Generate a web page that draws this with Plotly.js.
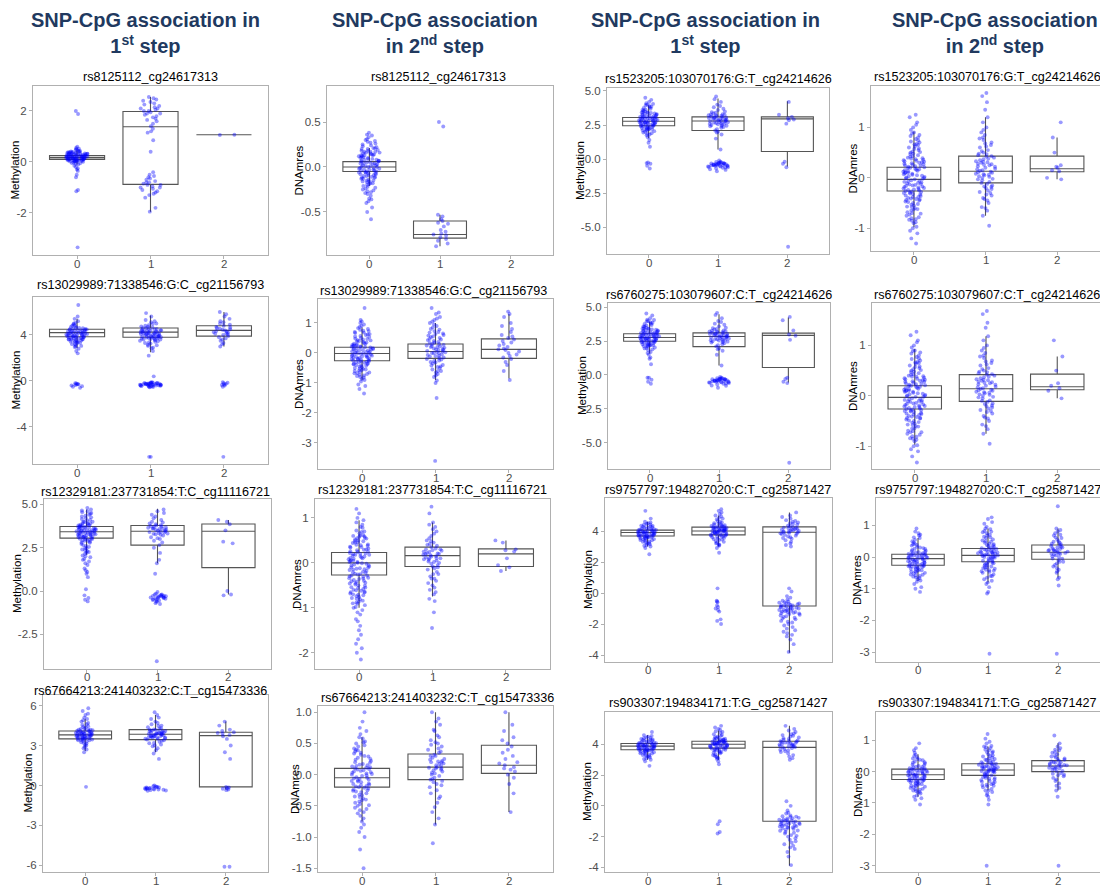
<!DOCTYPE html>
<html>
<head>
<meta charset="utf-8">
<script src="https://cdn.plot.ly/plotly-3.0.1.min.js"></script>
<style>
  html, body { margin: 0; padding: 0; background: #ffffff; }
  #chart { width: 1100px; height: 888px; }
</style>
</head>
<body>
<div id="chart"></div>
<script>
// ---------- data ----------
const genotypes = ['0', '1', '2'];

const columnHeaders = [
  'SNP-CpG association in<br>1<sup>st</sup> step',
  'SNP-CpG association<br>in 2<sup>nd</sup> step',
  'SNP-CpG association in<br>1<sup>st</sup> step',
  'SNP-CpG association<br>in 2<sup>nd</sup> step'
];

const panelTitles = [
  'rs8125112_cg24617313', 'rs8125112_cg24617313',
  'rs1523205:103070176:G:T_cg24214626', 'rs1523205:103070176:G:T_cg24214626',
  'rs13029989:71338546:G:C_cg21156793', 'rs13029989:71338546:G:C_cg21156793',
  'rs6760275:103079607:C:T_cg24214626', 'rs6760275:103079607:C:T_cg24214626',
  'rs12329181:237731854:T:C_cg11116721', 'rs12329181:237731854:T:C_cg11116721',
  'rs9757797:194827020:C:T_cg25871427', 'rs9757797:194827020:C:T_cg25871427',
  'rs67664213:241403232:C:T_cg15473336', 'rs67664213:241403232:C:T_cg15473336',
  'rs903307:194834171:T:G_cg25871427', 'rs903307:194834171:T:G_cg25871427'
];

const yLabels = [
  'Methylation', 'DNAmres', 'Methylation', 'DNAmres',
  'Methylation', 'DNAmres', 'Methylation', 'DNAmres',
  'Methylation', 'DNAmres', 'Methylation', 'DNAmres',
  'Methylation', 'DNAmres', 'Methylation', 'DNAmres'
];

const yTickValues = [
  [-2, 0, 2], [-0.5, 0, 0.5], [-5, -2.5, 0, 2.5, 5], [-1, 0, 1],
  [-4, 0, 4], [-3, -2, -1, 0, 1], [-5, -2.5, 0, 2.5, 5], [-1, 0, 1],
  [-2.5, 0, 2.5, 5], [-2, -1, 0, 1], [-4, -2, 0, 2, 4], [-3, -2, -1, 0, 1],
  [-6, -3, 0, 3, 6], [-1.5, -1, -0.5, 0, 0.5, 1], [-4, -2, 0, 2, 4], [-3, -2, -1, 0, 1]
];
const yTickDecimals = [0, 1, 1, 0, 0, 0, 1, 0, 1, 0, 0, 0, 0, 1, 0, 0];

// box summaries per panel, genotype 0 / 1 / 2 (null = no carriers)
const lowerWhisker = [
  [-0.1, -1.95, 1.07], [-0.21, -0.88, null], [1.55, 0.7, -0.55], [-0.98, -0.75, -0.03],
  [2.85, 2.5, 3.0], [-0.9, -0.9, -0.85], [1.6, 0.7, -0.55], [-0.97, -0.75, -0.05],
  [2.1, 1.6, -0.2], [-1.0, -0.75, -0.18], [3.0, 3.0, -3.85], [-0.75, -0.8, -0.65],
  [2.6, 2.5, -0.3], [-0.75, -0.8, -0.6], [3.0, 3.0, -3.9], [-0.8, -0.6, -0.6]
];
const quartile1 = [
  [0.1, -0.88, 1.07], [-0.05, -0.79, null], [2.45, 2.1, 0.55], [-0.26, -0.1, 0.12],
  [3.85, 3.8, 3.9], [-0.26, -0.18, -0.18], [2.5, 2.1, 0.55], [-0.26, -0.11, 0.12],
  [3.05, 2.65, 1.35], [-0.27, -0.08, -0.08], [3.68, 3.75, -0.84], [-0.26, -0.15, -0.07],
  [3.5, 3.45, -0.1], [-0.2, -0.08, 0.02], [3.65, 3.75, -1.0], [-0.25, -0.12, 0.0]
];
const medians = [
  [0.17, 1.38, 1.07], [0.0, -0.75, null], [2.78, 2.8, 2.95], [-0.03, 0.13, 0.18],
  [4.2, 4.25, 4.4], [-0.02, 0.05, 0.12], [2.78, 2.85, 2.93], [-0.03, 0.14, 0.18],
  [3.42, 3.45, 3.45], [0.0, 0.16, 0.2], [3.9, 4.0, 3.92], [-0.05, 0.05, 0.15],
  [3.8, 3.85, 3.75], [-0.05, 0.12, 0.15], [3.88, 4.0, 3.8], [-0.1, 0.05, 0.18]
];
const quartile3 = [
  [0.25, 1.98, 1.07], [0.06, -0.6, null], [3.05, 3.1, 3.1], [0.21, 0.43, 0.43],
  [4.5, 4.6, 4.8], [0.19, 0.3, 0.47], [3.05, 3.12, 3.1], [0.2, 0.42, 0.43],
  [3.72, 3.78, 3.87], [0.23, 0.35, 0.31], [4.06, 4.25, 4.27], [0.085, 0.27, 0.38],
  [4.1, 4.2, 4.0], [0.1, 0.33, 0.47], [4.05, 4.2, 4.2], [0.08, 0.25, 0.35]
];
const upperWhisker = [
  [0.45, 2.55, 1.07], [0.21, -0.53, null], [3.95, 4.45, 4.25], [0.92, 1.2, 0.8],
  [5.4, 5.7, 6.0], [0.85, 1.0, 1.3], [3.95, 4.5, 4.25], [0.93, 1.18, 0.78],
  [4.7, 4.75, 4.1], [0.95, 0.9, 0.5], [4.6, 5.0, 5.2], [0.6, 0.9, 0.9],
  [5.0, 5.3, 4.8], [0.6, 1.0, 1.0], [4.6, 4.9, 5.2], [0.55, 0.8, 0.9]
];

// individual samples per panel: [genotype 0, genotype 1, genotype 2]
const samplesP01 = [
  [0.05,0.1,0.15,0.2,0.25,0.3,0.35,0.4,0.12,0.18,0.22,0.28,0.08,0.02,0.32,0.38,0.45,0.5,0.55,0.14,0.24,0.16,0.26,0.06,0.34,-0.05,-0.1,-0.15,-0.2,-0.25,-0.3,0.42,0.48,0.11,0.19,0.21,0.29,0.09,0.31,0.36,0.04,0.13,0.23,0.27,0.17,0.07,0.33,0.03,0.6,-0.5,-0.6,-1.1,-1.15,2.0,1.88,-3.35,-0.35,0.52,
   0.01,0.03,0.05,0.07,0.09,0.11,0.13,0.15,0.17,0.19,0.21,0.23,0.25,0.27,0.29,0.31,0.33,0.35,0.37,0.39,0.41,0.43,0.02,0.06,0.1,0.14,0.18,0.22,0.26,0.3,0.34,0.38,-0.02,-0.04,-0.07,0.12,0.2,0.28,0.24,0.16],
  [2.55,2.5,2.45,2.4,2.3,2.25,2.2,2.15,2.1,2.05,2.0,1.95,1.9,1.85,1.8,1.75,1.7,1.6,1.5,1.4,1.3,1.2,2.35,2.0,2.1,1.9,1.65,1.15,0.85,0.4,-0.4,-0.5,-0.6,-0.7,-0.75,-0.8,-0.85,-0.9,-0.95,-1.0,-1.05,-1.1,-1.15,-1.2,-1.3,-1.4,-0.65,-0.9,-0.8,-1.0,-0.55,-1.25,-1.95,-1.8],
  [1.07, 1.06]
];
const samplesP02 = [
  [-0.2,-0.18,-0.15,-0.12,-0.1,-0.08,-0.06,-0.04,-0.02,0,0.02,0.04,0.06,0.08,0.1,0.12,0.14,0.16,0.18,0.2,-0.14,-0.09,-0.03,0.03,0.09,0.15,-0.11,0.01,0.07,0.13,-0.07,-0.01,0.05,0.11,0.17,-0.16,0.22,0.25,0.28,0.3,0.33,0.36,0.38,-0.22,-0.25,-0.28,-0.3,-0.35,-0.38,-0.4,-0.45,-0.5,-0.58,-0.23,0.21,-0.05,0.0,0.04,
   -0.19,-0.17,-0.13,-0.11,-0.09,-0.07,-0.05,-0.03,-0.01,0.01,0.03,0.05,0.07,0.09,0.11,0.13,0.15,0.17,0.19,0.21,-0.21,-0.16,-0.12,-0.06,-0.02,0.02,0.06,0.1,0.14,0.18,0.23,0.26,-0.24,-0.26,-0.15,-0.08,0.0,0.08,0.16,0.24,-0.18,-0.1,-0.04,0.04,0.12,0.2,-0.13,-0.03,0.07,0.17,-0.27,0.27,0.31,-0.32,0.35,-0.36,0.29,-0.29,0.13,-0.06],
  [0.45,0.5,-0.53,-0.55,-0.58,-0.6,-0.63,-0.66,-0.7,-0.72,-0.74,-0.76,-0.78,-0.8,-0.82,-0.85,-0.88,-0.62,-0.75],
  []
];
const samplesP03 = [
  [2.0,2.1,2.2,2.3,2.4,2.5,2.6,2.7,2.8,2.9,3.0,3.1,3.2,3.3,3.4,3.5,3.6,3.7,3.8,4.0,2.25,2.45,2.65,2.85,3.05,3.25,3.45,2.35,2.55,2.75,2.95,3.15,3.35,2.15,2.6,2.8,3.0,2.7,2.9,3.1,1.9,1.8,1.6,1.4,1.2,0.9,4.2,4.35,4.5,4.1,3.9,-0.3,-0.35,-0.5,-0.7,-0.25,2.5,2.8,
   2.12,2.18,2.28,2.32,2.38,2.42,2.48,2.52,2.58,2.62,2.68,2.72,2.78,2.82,2.88,2.92,2.98,3.02,3.08,3.12,3.18,3.22,3.28,3.32,3.38,3.42,3.48,3.55,3.65,3.75,3.85,3.95,4.05,2.05,1.95,1.85,1.75,2.22,2.66,3.06],
  [1.5,2.0,2.2,2.4,2.5,2.6,2.7,2.8,2.9,3.0,3.1,3.2,3.3,3.4,3.6,3.8,4.0,4.2,4.4,4.6,2.55,2.75,2.95,3.15,2.65,2.85,3.05,2.35,3.5,1.8,0.7,2.9,3.25,-0.1,-0.2,-0.3,-0.35,-0.4,-0.45,-0.5,-0.55,-0.6,-0.7,-0.8,-0.9,-0.3,-0.4,-0.5,-0.25,-0.45,-0.35,-0.55,-0.65,
   2.45,2.52,2.58,2.62,2.68,2.72,2.78,2.82,2.88,2.92,2.98,3.02,3.08,3.12,3.18,3.22,3.28,3.35,2.42,3.45,3.7,3.9,2.3,2.1,1.95,-0.22,-0.28,-0.32,-0.38,-0.42,-0.48,-0.52,-0.58,-0.62,-0.36,-0.44,-0.33,-0.27,-0.47,-0.75],
  [4.2,3.25,3.1,3.0,2.9,2.85,2.6,-0.35,-0.2,-0.6,-6.45]
];
const samplesP04 = [
  [-1.3,-1.2,-1.1,-1.0,-0.9,-0.8,-0.7,-0.6,-0.5,-0.45,-0.4,-0.35,-0.3,-0.25,-0.2,-0.15,-0.1,-0.05,0,0.05,0.1,0.15,0.2,0.25,0.3,0.35,0.4,0.5,0.6,0.7,0.8,0.9,1.0,1.1,1.2,1.25,-0.55,-0.28,-0.12,0.02,0.18,0.32,0.45,-0.65,-0.38,-0.22,-0.08,0.08,0.22,0.55,-0.75,-0.32,0.12,0.65,-0.02,-0.18,0.28,-0.42,0.38,-0.85,
   -0.88,-0.83,-0.78,-0.73,-0.68,-0.63,-0.58,-0.53,-0.48,-0.43,-0.38,-0.33,-0.29,-0.26,-0.23,-0.19,-0.16,-0.13,-0.09,-0.06,-0.03,0.01,0.04,0.07,0.11,0.14,0.17,0.21,0.24,0.27,0.31,0.34,0.37,0.42,0.47,0.52,0.57,0.62,0.67,0.72,0.77,0.83,0.88,0.95,
   -0.82,-0.71,-0.62,-0.52,-0.44,-0.36,-0.27,-0.21,-0.14,-0.07,0.03,0.09,0.16,0.23,0.29,0.36,0.43,0.51,0.58,0.66,0.74,0.85,-0.57,-0.41,-0.31,-0.17,-0.11,0.06,0.19,0.33,0.48,-0.97,-1.05,1.05,-0.47,-0.24,-0.01,0.13,0.26,0.39],
  [-0.95,-0.75,-0.6,-0.5,-0.4,-0.3,-0.25,-0.2,-0.15,-0.1,-0.05,0,0.05,0.1,0.15,0.2,0.25,0.3,0.35,0.4,0.45,0.5,0.6,0.7,0.8,0.9,1.0,1.1,1.2,1.35,1.5,1.62,1.68,-0.35,-0.02,0.12,0.28,0.42,0.55,-0.45,0.08,0.18,0.38,0.65,-0.28,0.02,0.22,-0.12,0.32,0.75,
   -0.58,-0.42,-0.33,-0.22,-0.17,-0.08,-0.03,0.03,0.07,0.11,0.17,0.23,0.27,0.33,0.37,0.43,0.48,0.53,0.62,0.68,0.78,0.85,0.95,-0.65,0.14,0.26,-0.18,0.06,0.31,0.47],
  [1.1,0.8,0.5,0.25,0.22,0.15,0.13,-0.03,0.0,0.2]
];
const samplesP05 = [
  [3.0,3.2,3.4,3.5,3.6,3.7,3.8,3.9,4.0,4.1,4.2,4.3,4.4,4.5,4.6,4.8,5.0,5.2,3.65,3.85,4.05,4.25,4.45,3.75,3.95,4.15,4.35,3.55,4.55,3.3,4.7,2.8,2.6,2.4,5.4,5.6,6.6,3.9,4.0,4.1,-0.2,-0.25,-0.3,-0.35,-0.4,-0.45,-0.5,-0.3,-0.6,-0.22,
   3.12,3.22,3.32,3.42,3.52,3.58,3.62,3.68,3.72,3.78,3.82,3.88,3.92,3.98,4.02,4.08,4.12,4.18,4.22,4.28,4.32,4.38,4.42,4.48,4.52,4.58,4.62,4.72,4.82,4.92,5.05,3.35,3.45,3.05,2.95,4.0,4.2,3.8,4.4,3.6],
  [2.2,2.6,2.9,3.1,3.3,3.5,3.6,3.7,3.8,3.9,4.0,4.1,4.2,4.3,4.4,4.5,4.6,4.8,5.0,5.3,5.6,5.9,3.75,3.95,4.15,4.35,3.85,4.05,4.25,4.45,3.65,3.4,4.7,-0.1,-0.15,-0.2,-0.25,-0.3,-0.35,-0.4,-0.45,-0.5,-0.55,-0.2,-0.3,-0.4,-0.25,-0.35,-0.45,-0.15,0.4,-6.6,-6.6,
   2.85,3.15,3.25,3.35,3.45,3.55,3.62,3.68,3.72,3.78,3.82,3.88,3.92,3.98,4.02,4.08,4.12,4.18,4.22,4.28,4.32,4.38,4.42,4.48,4.52,4.58,4.65,4.75,4.85,4.95,5.1,5.2,3.05,4.0,4.2,3.8,4.4,3.6,4.1,3.9,
   -0.12,-0.18,-0.22,-0.28,-0.32,-0.38,-0.42,-0.48,-0.52,-0.27,-0.33,-0.23,-0.37,-0.17,-0.43,-0.29,-0.31,-0.21,-0.39,-0.26],
  [3.0,3.3,3.5,3.7,3.8,3.9,4.0,4.1,4.2,4.3,4.4,4.5,4.6,4.7,4.8,4.9,5.0,5.2,5.4,5.6,5.8,6.0,4.05,4.25,4.45,4.65,3.6,4.15,4.35,4.55,3.2,5.1,-0.1,-0.2,-0.25,-0.3,-0.35,-0.4,-0.15,-0.5,-6.6]
];
const samplesP06 = [
  [-1.35,-1.2,-1.05,-0.9,-0.8,-0.7,-0.6,-0.5,-0.4,-0.35,-0.3,-0.25,-0.2,-0.15,-0.1,-0.05,0,0.05,0.1,0.15,0.2,0.25,0.3,0.4,0.5,0.6,0.7,0.8,0.9,1.0,1.1,1.5,-0.45,-0.28,-0.12,0.02,0.12,0.22,0.35,-0.55,-0.18,-0.02,0.08,0.45,-0.65,-0.38,0.18,0.55,-0.08,0.28,
   -0.87,-0.82,-0.77,-0.73,-0.67,-0.63,-0.57,-0.53,-0.47,-0.43,-0.37,-0.33,-0.27,-0.23,-0.17,-0.13,-0.07,-0.03,0.03,0.07,0.13,0.17,0.23,0.27,0.33,0.37,0.43,0.47,0.53,0.57,0.63,0.67,0.73,0.77,0.83,0.87,-0.75,-0.58,-0.42,-0.31,-0.21,-0.11,-0.01,0.09,0.19,0.31,0.42,0.62,0.74,-0.95,0.95,-0.29,-0.09,0.11,0.26,-0.52,0.38,-0.24,0.04,0.16,-0.16,-0.36,0.48,-0.68,0.68,1.05,-1.1,0.21,-0.04,-0.19],
  [-1.0,-0.8,-0.7,-0.6,-0.5,-0.4,-0.3,-0.2,-0.1,0,0.1,0.2,0.3,0.4,0.5,0.6,0.7,0.8,0.9,1.0,1.1,1.2,1.35,1.5,-0.25,-0.05,0.05,0.15,0.25,0.35,-0.15,0.45,-0.35,0.55,0.02,0.12,0.22,-0.45,0.65,-1.5,-3.6,
   -0.92,-0.75,-0.65,-0.55,-0.47,-0.42,-0.32,-0.27,-0.22,-0.17,-0.12,-0.07,-0.02,0.03,0.07,0.13,0.17,0.23,0.27,0.33,0.37,0.43,0.47,0.53,0.58,0.63,0.68,0.73,0.78,0.85,0.95,1.05,1.15,1.3,-0.6,0.1,0.2,0.3,-0.1,0.0],
  [-0.9,-0.6,-0.4,-0.3,-0.2,-0.1,0,0.1,0.2,0.3,0.4,0.5,0.6,0.7,0.8,0.9,1.0,1.2,1.3,1.38,0.05,0.15,0.25,0.35,-0.15,0.55,0.12,0.45,-0.05]
];
const samplesP07 = [
  [2.0,2.1,2.2,2.3,2.4,2.5,2.6,2.7,2.8,2.9,3.0,3.1,3.2,3.3,3.4,3.5,3.6,3.7,3.8,4.0,2.25,2.45,2.65,2.85,3.05,3.25,3.45,2.35,2.55,2.75,2.95,3.15,3.35,2.15,2.6,2.8,3.0,2.7,2.9,3.1,1.9,1.7,1.5,1.3,1.2,0.8,4.2,4.4,4.55,4.1,3.9,-0.2,-0.35,-0.5,-0.65,-0.2,2.5,2.8,
   2.14,2.19,2.27,2.33,2.37,2.43,2.47,2.53,2.57,2.63,2.67,2.73,2.77,2.83,2.87,2.93,2.97,3.03,3.07,3.13,3.17,3.23,3.27,3.33,3.37,3.43,3.47,3.57,3.67,3.77,3.87,3.97,4.07,2.04,1.97,1.83,1.62,2.21,2.64,3.04],
  [1.5,1.9,2.2,2.4,2.5,2.6,2.7,2.8,2.9,3.0,3.1,3.2,3.3,3.4,3.6,3.8,4.0,4.2,4.45,4.6,2.55,2.75,2.95,3.15,2.65,2.85,3.05,2.35,3.5,1.8,0.7,2.9,3.25,-0.15,-0.2,-0.3,-0.35,-0.4,-0.45,-0.5,-0.55,-0.6,-0.7,-0.8,-0.95,-0.3,-0.4,-0.5,-0.25,-0.45,-0.35,-0.55,-0.65,
   2.47,2.53,2.57,2.63,2.67,2.73,2.77,2.83,2.87,2.93,2.97,3.03,3.07,3.13,3.17,3.23,3.27,3.37,2.43,3.47,3.72,3.92,2.28,2.12,1.97,-0.23,-0.27,-0.33,-0.37,-0.43,-0.47,-0.53,-0.57,-0.63,-0.38,-0.42,-0.31,-0.28,-0.48,-0.78],
  [4.3,4.05,3.3,3.0,2.9,2.6,-0.3,-0.5,-0.2,-0.6,-6.5]
];
const samplesP08 = [
  [-1.32,-1.2,-1.1,-1.0,-0.9,-0.8,-0.7,-0.6,-0.5,-0.45,-0.4,-0.35,-0.3,-0.25,-0.2,-0.15,-0.1,-0.05,0,0.05,0.1,0.15,0.2,0.25,0.3,0.35,0.4,0.5,0.6,0.7,0.8,0.9,1.0,1.1,1.2,1.27,-0.55,-0.28,-0.12,0.02,0.18,0.32,0.45,-0.65,-0.38,-0.22,-0.08,0.08,0.22,0.55,-0.75,-0.32,0.12,0.65,-0.02,-0.18,0.28,-0.42,0.38,-0.85,
   -0.87,-0.84,-0.77,-0.72,-0.69,-0.64,-0.57,-0.52,-0.49,-0.44,-0.37,-0.34,-0.29,-0.26,-0.22,-0.19,-0.16,-0.12,-0.09,-0.06,-0.02,0.01,0.04,0.08,0.11,0.14,0.18,0.21,0.24,0.28,0.31,0.34,0.38,0.42,0.47,0.53,0.57,0.63,0.67,0.73,0.77,0.84,0.89,0.96,
   -0.81,-0.72,-0.61,-0.53,-0.44,-0.36,-0.27,-0.21,-0.14,-0.07,0.03,0.09,0.16,0.23,0.29,0.36,0.43,0.51,0.58,0.66,0.74,0.86,-0.58,-0.41,-0.31,-0.17,-0.11,0.06,0.19,0.33,0.48,-0.98,-1.06,1.06,-0.47,-0.24,-0.01,0.13,0.26,0.39],
  [-0.95,-0.75,-0.6,-0.5,-0.4,-0.3,-0.25,-0.2,-0.15,-0.1,-0.05,0,0.05,0.1,0.15,0.2,0.25,0.3,0.35,0.4,0.45,0.5,0.6,0.7,0.8,0.9,1.0,1.1,1.18,1.35,1.45,1.62,1.68,-0.35,-0.02,0.12,0.28,0.42,0.55,-0.45,0.08,0.18,0.38,0.65,-0.28,0.02,0.22,-0.12,0.32,0.75,
   -0.57,-0.43,-0.32,-0.23,-0.16,-0.09,-0.03,0.03,0.07,0.11,0.17,0.23,0.27,0.33,0.37,0.43,0.48,0.53,0.62,0.68,0.78,0.85,0.95,-0.66,0.14,0.26,-0.19,0.06,0.31,0.47],
  [1.1,0.78,0.5,0.25,0.2,0.1,-0.05,0.15]
];
const samplesP09 = [
  [0.8,1.0,1.2,1.5,1.8,2.0,2.2,2.4,2.6,2.8,2.9,3.0,3.1,3.2,3.3,3.4,3.5,3.6,3.7,3.8,3.9,4.0,4.1,4.2,4.3,4.4,4.5,4.6,4.7,4.8,3.05,3.25,3.45,3.65,3.15,3.35,3.55,3.75,2.95,3.85,3.4,3.5,2.5,2.3,1.6,-0.4,-0.6,0.1,-0.25,-0.5,
   2.25,2.35,2.45,2.55,2.65,2.72,2.78,2.85,2.92,2.98,3.02,3.08,3.12,3.18,3.22,3.28,3.32,3.38,3.42,3.48,3.52,3.58,3.62,3.68,3.72,3.78,3.82,3.88,3.92,3.98,4.05,4.15,4.25,4.35,4.45,4.55,4.65,2.15,2.05,1.95,3.3,3.4,3.5,3.6,3.2,3.7,3.1,3.8,2.9,4.0,1.85,1.7,1.3,1.1,3.45,3.35,3.55,3.25,3.65,3.15],
  [1.0,1.6,1.8,2.2,2.5,2.8,3.0,3.2,3.3,3.4,3.5,3.6,3.7,3.8,3.9,4.0,4.2,4.4,4.6,4.7,3.45,3.55,3.65,3.35,3.75,3.25,2.65,-0.05,-0.15,-0.2,-0.25,-0.3,-0.35,-0.4,-0.45,-0.5,-0.55,-0.6,-0.7,-0.3,-0.4,-0.2,-4.05,
   3.28,3.32,3.38,3.42,3.48,3.52,3.58,3.62,3.68,3.72,3.78,3.85,3.95,4.1,4.3,4.5,3.1,2.9,3.05,3.6,-0.22,-0.28,-0.32,-0.38,-0.42,-0.48,-0.27,-0.33,-0.37,-0.52,-0.62,-0.75],
  [4.1,4.0,3.85,3.5,2.85,2.75,-0.2,-0.25,0.0]
];
const samplesP10 = [
  [-2.15,-2.0,-1.8,-1.6,-1.4,-1.25,-1.1,-1.0,-0.9,-0.8,-0.7,-0.6,-0.5,-0.4,-0.3,-0.25,-0.2,-0.15,-0.1,-0.05,0,0.05,0.1,0.15,0.2,0.25,0.3,0.4,0.5,0.6,0.7,0.8,0.9,1.0,1.1,1.2,-0.35,-0.12,0.02,0.12,0.35,-0.45,0.45,-0.55,0.55,-0.65,-0.02,0.22,-0.28,0.18,
   -0.98,-0.94,-0.88,-0.84,-0.78,-0.74,-0.68,-0.64,-0.58,-0.54,-0.48,-0.44,-0.38,-0.34,-0.28,-0.24,-0.18,-0.14,-0.08,-0.04,0.04,0.08,0.14,0.18,0.24,0.28,0.34,0.38,0.44,0.48,0.54,0.58,0.62,0.66,0.72,0.78,0.85,
   -0.91,-0.81,-0.71,-0.61,-0.51,-0.41,-0.31,-0.21,-0.11,-0.01,0.09,0.19,0.29,0.39,0.49,0.59,0.69,-0.86,-0.76,-0.66,-0.56,-0.46,-0.36,-0.26,-0.16,-0.06,0.06,0.16,0.26,0.36,0.46,0.56,
   -1.05,-1.15,-1.3,-0.72,-0.42,-0.22,0.02,0.32,0.52,-0.62,-0.33,-0.13,0.11,0.21,0.41,0.61,0.95,-1.5,-1.7,-1.9],
  [-1.45,-1.1,-0.85,-0.7,-0.6,-0.5,-0.4,-0.3,-0.2,-0.1,0,0.05,0.1,0.15,0.2,0.25,0.3,0.35,0.4,0.5,0.6,0.7,0.8,0.9,1.1,1.25,0.12,0.18,0.22,0.28,-0.05,0.45,-0.25,0.02,0.08,
   -0.8,-0.65,-0.55,-0.45,-0.35,-0.25,-0.15,-0.08,-0.02,0.03,0.07,0.11,0.14,0.17,0.21,0.24,0.27,0.32,0.38,0.42,0.48,0.55,0.65,0.75,0.85,-0.35,0.1,0.2,0.3,-0.12],
  [0.5,0.45,0.3,0.28,0.1,-0.05,-0.1,-0.18,0.25]
];
const samplesP11 = [
  [2.5,2.9,3.1,3.2,3.3,3.4,3.5,3.55,3.6,3.65,3.7,3.75,3.8,3.85,3.9,3.95,4.0,4.05,4.1,4.15,4.2,4.3,4.4,4.5,4.6,4.8,5.3,3.62,3.72,3.82,3.92,4.02,3.68,3.78,3.88,3.98,3.45,4.25,3.0,
   3.22,3.32,3.42,3.52,3.58,3.63,3.67,3.73,3.77,3.83,3.87,3.93,3.97,4.03,4.07,4.12,4.18,4.22,4.28,4.35,4.45,3.48,3.38,3.28,4.32,4.42,4.55,3.15,3.05,3.7,3.8,3.9,4.0,3.6,4.1],
  [2.6,2.9,3.1,3.3,3.5,3.6,3.7,3.8,3.85,3.9,3.95,4.0,4.05,4.1,4.15,4.2,4.25,4.3,4.4,4.5,4.6,4.8,5.0,5.2,5.4,3.75,3.95,4.08,4.18,3.88,4.02,4.12,3.65,4.35,3.45,0.3,-0.5,-0.6,-0.8,-1.0,-1.1,-1.2,-0.9,-1.7,-1.8,-2.0,-0.55,
   3.05,3.15,3.25,3.35,3.42,3.48,3.55,3.62,3.68,3.72,3.78,3.82,3.87,3.92,3.97,4.02,4.07,4.12,4.17,4.22,4.27,4.32,4.37,4.42,4.47,4.55,4.65,4.75,4.85,4.95,5.1,5.3,3.2,3.9,4.0,4.1,3.8,4.2,4.3,3.7],
  [3.0,3.3,3.5,3.7,3.8,3.9,4.0,4.1,4.2,4.3,4.4,4.5,4.6,4.8,5.0,5.2,3.95,4.05,4.15,3.85,4.25,3.6,4.7,0.3,0.1,-0.3,-0.5,-0.6,-0.7,-0.8,-0.9,-1.0,-1.1,-1.2,-1.3,-1.4,-1.5,-1.6,-1.7,-1.8,-1.9,-2.0,-2.2,-2.4,-2.6,-2.8,-3.0,-3.3,-3.8,-0.75,-0.95,-1.15,-1.35,-0.85,-1.05,-1.25,-0.65,-1.55,
   3.2,3.4,3.55,3.65,3.75,3.82,3.88,3.92,3.98,4.02,4.08,4.12,4.18,4.22,4.35,4.45,4.55,4.65,4.9,3.1,-0.42,-0.55,-0.62,-0.68,-0.72,-0.78,-0.82,-0.88,-0.92,-0.98,-1.02,-1.08,-1.12,-1.18,-1.22,-1.28,-1.32,-1.45,-1.65,-1.85,-2.1,-2.3,-2.5,-2.7,-0.2]
];
const samplesP12 = [
  [-1.1,-1.0,-0.85,-0.7,-0.6,-0.5,-0.45,-0.4,-0.35,-0.3,-0.25,-0.2,-0.15,-0.1,-0.05,0,0.05,0.1,0.15,0.2,0.3,0.4,0.5,0.6,0.75,0.9,-0.22,-0.12,-0.02,0.08,-0.32,-0.08,0.02,0.12,-0.18,-0.28,0.25,-0.55,
   -0.78,-0.74,-0.66,-0.62,-0.56,-0.52,-0.48,-0.43,-0.38,-0.33,-0.29,-0.27,-0.24,-0.21,-0.17,-0.14,-0.11,-0.07,-0.04,-0.01,0.01,0.04,0.07,0.11,0.14,0.18,0.22,0.26,0.32,0.36,0.42,0.46,0.54,0.62,0.68,-0.65,-0.46,-0.37,-0.31,-0.26,-0.19,-0.09,-0.03,0.03,0.09,0.16,0.28,0.38,-0.58,-0.42,-0.13,0.06,-0.95,0.8,0.7],
  [-1.15,-1.1,-0.8,-0.7,-0.6,-0.5,-0.4,-0.3,-0.2,-0.1,0,0.05,0.1,0.15,0.2,0.25,0.3,0.4,0.5,0.6,0.7,0.8,0.9,1.05,1.2,1.25,-0.15,-0.05,0.02,0.08,0.12,0.18,0.35,-0.25,0.45,-0.35,-3.05,
   -0.85,-0.75,-0.65,-0.55,-0.47,-0.43,-0.37,-0.33,-0.27,-0.23,-0.18,-0.13,-0.08,-0.03,0.01,0.03,0.07,0.09,0.11,0.13,0.17,0.19,0.22,0.24,0.28,0.32,0.37,0.42,0.48,0.55,0.62,0.68,0.75,0.82,0.95,1.1,-0.6,-0.45,-0.2,0.0,0.14,0.26,0.38,0.52,0.64,-0.12,-0.02,0.06,0.16,0.27,-0.32,-0.42,0.78,0.88,-0.95],
  [-0.9,-0.7,-0.5,-0.4,-0.3,-0.2,-0.1,0,0.1,0.15,0.2,0.25,0.3,0.4,0.5,0.6,0.7,0.8,0.9,1.6,0.05,0.12,0.18,0.35,-0.05,0.22,-0.15,0.45,-3.05,
   -0.65,-0.45,-0.35,-0.25,-0.15,-0.05,0.02,0.08,0.13,0.17,0.21,0.24,0.28,0.32,0.38,0.42,0.48,0.55,0.62,0.68,0.75,0.85,0.1,0.3,0.2]
];
const samplesP13 = [
  [2.5,2.8,3.0,3.2,3.3,3.4,3.5,3.6,3.7,3.8,3.9,4.0,4.1,4.2,4.3,4.4,4.6,4.8,5.0,5.3,5.6,5.8,3.55,3.65,3.75,3.85,3.95,4.05,3.45,4.15,3.7,3.9,-0.1,
   3.05,3.15,3.25,3.35,3.42,3.48,3.52,3.58,3.62,3.68,3.72,3.78,3.82,3.88,3.92,3.98,4.02,4.08,4.12,4.18,4.25,4.35,4.45,4.55,4.7,4.9,5.1,3.6,3.8,4.0,3.7,3.9,3.5,4.2,3.4,2.9,2.7,5.4,4.1,3.85],
  [2.0,2.4,2.8,3.0,3.2,3.4,3.5,3.6,3.7,3.8,3.9,4.0,4.1,4.2,4.3,4.5,4.7,5.0,5.3,5.5,3.65,3.75,3.85,3.95,4.05,3.55,0.0,-0.05,-0.1,-0.15,-0.2,-0.25,-0.3,-0.35,-0.4,-0.2,-0.3,-0.15,-0.25,
   2.65,2.95,3.08,3.18,3.28,3.35,3.45,3.52,3.58,3.62,3.68,3.72,3.78,3.82,3.88,3.92,3.98,4.02,4.08,4.12,4.18,4.22,4.28,4.38,4.48,4.6,4.8,5.1,3.6,3.8,4.0,3.7,3.9,-0.12,-0.18,-0.22,-0.28,-0.32,-0.08,-0.38],
  [4.8,4.5,4.2,4.0,3.9,3.8,3.7,3.5,3.0,2.5,2.0,4.1,3.95,-0.1,-0.2,-0.25,-0.3,-0.15,-0.35,-6.1,-6.1]
];
const samplesP14 = [
  [-1.5,-1.2,-1.0,-0.85,-0.7,-0.6,-0.5,-0.4,-0.35,-0.3,-0.25,-0.2,-0.15,-0.1,-0.05,0,0.05,0.1,0.15,0.2,0.25,0.3,0.4,0.5,0.6,0.7,0.85,1.0,-0.12,-0.02,0.08,-0.22,0.12,-0.32,0.35,-0.45,0.45,-0.08,0.02,-0.18,
   -0.62,-0.57,-0.53,-0.47,-0.43,-0.38,-0.33,-0.28,-0.24,-0.21,-0.17,-0.14,-0.11,-0.07,-0.04,-0.01,0.01,0.04,0.07,0.11,0.14,0.17,0.22,0.27,0.32,0.37,0.42,0.47,0.53,0.58,0.65,-0.75,-0.66,-0.41,-0.27,-0.16,-0.06,0.06,0.16,0.24,0.34,0.52,-0.55,-0.36,-0.19,-0.09,0.09,0.19,0.29,-0.8,-0.92,0.75,-0.49,-0.26,0.03,0.13,0.39],
  [-1.1,-0.8,-0.6,-0.45,-0.3,-0.2,-0.1,0,0.05,0.1,0.15,0.2,0.25,0.3,0.4,0.5,0.6,0.7,0.8,0.9,1.0,0.12,0.18,0.22,-0.05,0.35,-0.15,0.45,0.02,0.08,
   -0.7,-0.52,-0.38,-0.25,-0.17,-0.12,-0.07,-0.02,0.03,0.07,0.11,0.14,0.17,0.21,0.24,0.27,0.32,0.37,0.42,0.48,0.55,0.63,0.72,0.85,-0.35,0.1,0.2,0.3,-0.08,0.52],
  [-0.6,-0.3,-0.15,0.0,0.05,0.1,0.15,0.2,0.3,0.4,0.45,0.5,0.6,0.7,0.8,1.0,0.12,0.25,-0.05,0.35,0.55,0.18,0.08]
];
const samplesP15 = [
  [2.6,2.9,3.1,3.2,3.3,3.4,3.5,3.55,3.6,3.65,3.7,3.75,3.8,3.85,3.9,3.95,4.0,4.05,4.1,4.15,4.2,4.3,4.4,4.5,4.6,4.8,3.62,3.72,3.82,3.92,4.02,3.68,3.78,3.88,3.98,3.45,4.25,3.0,
   3.22,3.32,3.42,3.52,3.58,3.63,3.67,3.73,3.77,3.83,3.87,3.93,3.97,4.03,4.07,4.12,4.18,4.22,4.28,4.35,4.45,3.48,3.38,3.28,4.32,4.42,4.55,3.15,3.05,3.7,3.8,3.9,4.0,3.6,4.1],
  [2.7,2.9,3.1,3.3,3.5,3.6,3.7,3.8,3.85,3.9,3.95,4.0,4.05,4.1,4.15,4.2,4.25,4.3,4.4,4.5,4.6,4.8,5.0,5.2,3.75,3.95,4.08,4.18,3.88,4.02,4.12,3.65,4.35,3.45,-1.0,-1.2,-1.7,-1.8,
   3.05,3.15,3.25,3.35,3.42,3.48,3.55,3.62,3.68,3.72,3.78,3.82,3.87,3.92,3.97,4.02,4.07,4.12,4.17,4.22,4.27,4.32,4.37,4.42,4.47,4.55,4.65,4.75,4.85,4.95,5.1,3.2,3.9,4.0,4.1,3.8,4.2,4.3,3.7],
  [3.0,3.3,3.5,3.7,3.8,3.9,4.0,4.1,4.2,4.3,4.4,4.5,4.6,4.8,5.0,5.2,3.95,4.05,4.15,3.85,4.25,3.6,4.7,0.3,0.0,-0.3,-0.5,-0.7,-0.8,-0.9,-1.0,-1.1,-1.2,-1.3,-1.4,-1.5,-1.6,-1.7,-1.8,-1.9,-2.0,-2.2,-2.4,-2.6,-2.8,-3.0,-3.3,-3.85,-0.95,-1.15,-1.35,-1.05,-1.25,-1.55,
   3.2,3.4,3.55,3.65,3.75,3.82,3.88,3.92,3.98,4.02,4.08,4.12,4.18,4.22,4.35,4.45,4.55,4.65,4.9,3.1,-0.62,-0.68,-0.72,-0.78,-0.82,-0.88,-0.92,-0.98,-1.02,-1.08,-1.12,-1.18,-1.22,-1.28,-1.32,-1.38,-1.42,-1.48,-1.62,-1.75,-1.95,-2.1,-2.3,-2.5,-2.7,-0.45]
];
const samplesP16 = [
  [-1.05,-0.9,-0.8,-0.7,-0.6,-0.5,-0.45,-0.4,-0.35,-0.3,-0.25,-0.2,-0.15,-0.1,-0.05,0,0.05,0.1,0.15,0.2,0.3,0.4,0.5,0.6,0.75,0.9,-0.22,-0.12,-0.02,0.08,-0.32,-0.08,0.02,-0.18,-0.28,-0.55,
   -0.76,-0.66,-0.62,-0.56,-0.52,-0.48,-0.43,-0.38,-0.33,-0.29,-0.27,-0.24,-0.21,-0.17,-0.14,-0.11,-0.07,-0.04,-0.01,0.01,0.04,0.07,0.11,0.14,0.18,0.22,0.26,0.32,0.36,0.42,0.46,0.54,-0.65,-0.46,-0.37,-0.31,-0.26,-0.19,-0.09,-0.03,0.03,0.09,0.16,0.28,0.38,-0.58,-0.42,-0.13,0.06,-0.85,0.68],
  [-1.05,-0.8,-0.7,-0.6,-0.5,-0.4,-0.3,-0.2,-0.1,0,0.05,0.1,0.15,0.2,0.25,0.3,0.4,0.5,0.6,0.7,0.8,0.9,1.05,1.2,-0.15,-0.05,0.02,0.08,0.12,0.18,0.35,-0.25,0.45,-3.0,
   -0.75,-0.65,-0.55,-0.47,-0.43,-0.37,-0.33,-0.27,-0.23,-0.18,-0.13,-0.08,-0.03,0.01,0.03,0.07,0.09,0.11,0.13,0.17,0.19,0.22,0.24,0.28,0.32,0.37,0.42,0.48,0.55,0.62,0.68,0.75,0.82,0.95,-0.6,-0.45,-0.2,0.0,0.14,0.26,0.38,0.52,0.64,-0.12,-0.02,0.06,0.16,0.27,-0.32,-0.42,0.78,-0.9],
  [-0.8,-0.6,-0.45,-0.3,-0.2,-0.1,0,0.1,0.15,0.2,0.25,0.3,0.4,0.5,0.6,0.7,0.8,0.9,1.15,0.05,0.12,0.22,0.35,-0.05,-3.0,
   -0.52,-0.38,-0.25,-0.15,-0.07,0.02,0.08,0.13,0.17,0.21,0.24,0.28,0.32,0.38,0.42,0.48,0.55,0.62,0.68,0.75,0.1,0.3,0.2,-0.12,0.45]
];
const samples = [
  samplesP01, samplesP02, samplesP03, samplesP04,
  samplesP05, samplesP06, samplesP07, samplesP08,
  samplesP09, samplesP10, samplesP11, samplesP12,
  samplesP13, samplesP14, samplesP15, samplesP16
];

// ---------- page geometry (pixels on the 1100 x 888 page) ----------
const W = 1100, H = 888;
// [left, right, top, bottom] of each plotting area
const plotAreas = [
  [33, 268, 86, 255], [327, 553, 86, 255], [607, 829, 88, 254], [871, 1100, 86, 251],
  [33, 268, 297, 464], [318, 553, 299, 469], [608, 830, 303, 469], [872, 1100, 303, 469],
  [44, 271, 499, 669], [315, 550, 499, 669], [605, 832, 498, 662], [876, 1100, 498, 662],
  [43, 268, 695, 872], [318, 553, 706, 872], [605, 832, 712, 872], [876, 1100, 712, 872]
];
const yRanges = [
  [-3.65, 2.98], [-0.978, 0.9], [-6.98, 5.22], [-1.45, 1.82],
  [-7.22, 7.3], [-3.87, 1.8], [-6.96, 5.33], [-1.45, 1.84],
  [-4.5, 5.31], [-2.36, 1.42], [-4.45, 6.13], [-3.31, 1.86],
  [-6.5, 6.8], [-1.56, 1.1], [-4.3, 6.1], [-3.2, 1.9]
];
// centre of each panel title, and x of each rotated y-axis title
const titleCentres = [
  [150, 77], [438, 77], [718, 79], [987, 77],
  [150, 285], [433, 291], [719, 295], [987, 295],
  [155, 492], [432, 490], [718, 490], [988, 490],
  [150, 691], [437, 698], [718, 703], [987, 703]
];
const yTitleX = [15, 299, 580, 853, 15, 299, 582, 853, 17, 297, 588, 857, 27, 295, 587, 858];
const headerCentres = [[145, 33], [435, 33], [705, 33], [995, 33]];
// distance from the bottom of each plotting area to its genotype labels
const xLabelGap = [9, 9, 9, 9, 9, 9, 9, 9, 7.5, 8, 8, 8, 9, 9, 9, 9];

const FONT = 'Liberation Sans, Arial, Helvetica, sans-serif';
const px = v => v / W;
const py = v => 1 - v / H;

const traces = [];
const layout = {
  width: W, height: H,
  margin: { l: 0, r: 0, t: 0, b: 0, pad: 0 },
  paper_bgcolor: '#ffffff',
  plot_bgcolor: '#ffffff',
  showlegend: false,
  boxmode: 'overlay',
  font: { family: FONT, color: '#000000' },
  annotations: [],
  shapes: []
};

columnHeaders.forEach((txt, c) => {
  layout.annotations.push({
    xref: 'paper', yref: 'paper',
    x: px(headerCentres[c][0]), y: py(headerCentres[c][1]),
    xanchor: 'center', yanchor: 'middle', showarrow: false,
    text: '<b>' + txt + '</b>', align: 'center',
    font: { family: FONT, size: 20, color: '#21395f' }
  });
});

panelTitles.forEach((title, i) => {
  const n = i + 1;
  const xa = 'x' + n, ya = 'y' + n;
  const [l, r, t, b] = plotAreas[i];

  // box summaries
  const present = [0, 1, 2].filter(g => medians[i][g] !== null);
  traces.push({
    type: 'box', xaxis: xa, yaxis: ya,
    x: present,
    q1: present.map(g => quartile1[i][g]),
    median: present.map(g => medians[i][g]),
    q3: present.map(g => quartile3[i][g]),
    lowerfence: present.map(g => lowerWhisker[i][g]),
    upperfence: present.map(g => upperWhisker[i][g]),
    width: 0.75, whiskerwidth: 0, boxpoints: false,
    fillcolor: 'rgba(255,255,255,0)',
    line: { color: '#555555', width: 1.1 },
    hoverinfo: 'skip'
  });

  // jittered samples
  const xs = [], ys = [];
  samples[i].forEach((vals, g) => vals.forEach(v => { xs.push(g); ys.push(v); }));
  traces.push({
    type: 'box', xaxis: xa, yaxis: ya,
    x: xs, y: ys,
    width: 0.75, boxpoints: 'all', jitter: 0.4, pointpos: 0,
    fillcolor: 'rgba(0,0,0,0)',
    line: { color: 'rgba(0,0,0,0)', width: 0 },
    marker: { color: 'rgba(0,0,255,0.4)', size: 3.9 },
    hoverinfo: 'y'
  });

  const axisStyle = {
    showline: true, mirror: true, linecolor: '#b0b0b0', linewidth: 1,
    ticks: 'outside', ticklen: 3, tickcolor: '#b0b0b0', tickwidth: 1,
    showgrid: false, zeroline: false, fixedrange: true,
    tickfont: { family: FONT, size: 11.5, color: '#4d4d4d' }
  };
  layout['xaxis' + n] = Object.assign({}, axisStyle, {
    anchor: ya, domain: [px(l), px(r)], type: 'linear',
    range: [-0.6, 2.6], tickvals: [0, 1, 2], showticklabels: false
  });
  layout['yaxis' + n] = Object.assign({}, axisStyle, {
    anchor: xa, domain: [py(b), py(t)], range: yRanges[i],
    tickvals: yTickValues[i],
    ticktext: yTickValues[i].map(v => v.toFixed(yTickDecimals[i]))
  });

  // genotype labels under the x axis
  genotypes.forEach((g, k) => {
    layout.annotations.push({
      xref: xa, yref: 'paper', x: k, y: py(b + xLabelGap[i]),
      xanchor: 'center', yanchor: 'middle', showarrow: false,
      text: g, font: { family: FONT, size: 11.5, color: '#4d4d4d' }
    });
  });

  layout.annotations.push({
    xref: 'paper', yref: 'paper',
    x: px(titleCentres[i][0]), y: py(titleCentres[i][1]),
    xanchor: 'center', yanchor: 'middle', showarrow: false,
    text: title, font: { family: FONT, size: 12.6, color: '#000000' }
  });
  layout.annotations.push({
    xref: 'paper', yref: 'paper',
    x: px(yTitleX[i]), y: py((t + b) / 2),
    xanchor: 'center', yanchor: 'middle', showarrow: false, textangle: -90,
    text: yLabels[i], font: { family: FONT, size: 11.5, color: '#000000' }
  });
});

Plotly.newPlot('chart', traces, layout, { staticPlot: true, displayModeBar: false });
</script>
</body>
</html>
